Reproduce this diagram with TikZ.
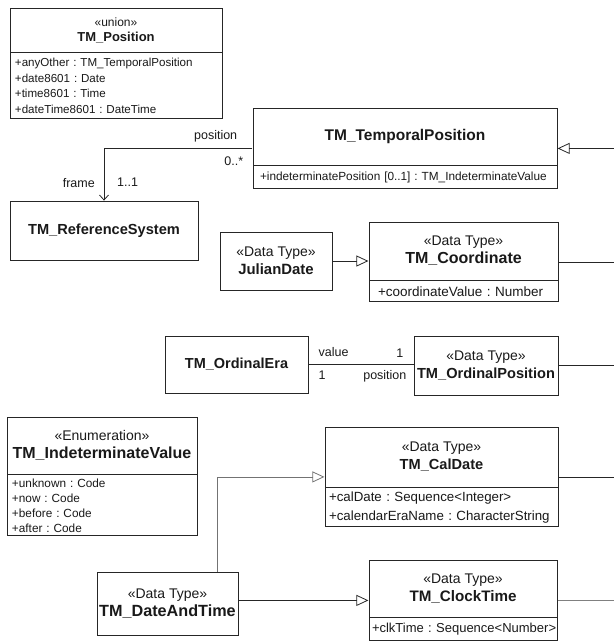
\documentclass[tikz,border=0pt]{standalone}
\usepackage{fontspec}
\setmainfont{Liberation Sans}
\usetikzlibrary{positioning,fit,arrows.meta}
\frenchspacing
\newcommand{\umlname}[2][15]{{\fontsize{#1}{18}\selectfont\bfseries #2}}

\begin{document}
\begin{tikzpicture}[x=1pt,y=-1pt,
    box/.style={draw=black!85,line width=0.8pt,inner sep=0pt,align=center,text=black!90},
    head/.style={box,font=\fontsize{14}{18}\selectfont},
    attr/.style={box,align=left,inner xsep=5pt,text width=#1,font=\fontsize{11.8}{15}\selectfont},
    whole/.style={inner sep=0pt},
    link/.style={draw=black!85,line width=0.8pt},
    gen/.style={link,-{Triangle[open,length=12pt,width=11pt]}},
    role/.style={font=\fontsize{12.5}{14}\selectfont,inner sep=0pt,text=black!90}]
  \useasboundingbox (0,0) rectangle (614,641);
  \coordinate (edge) at (614,0);

  % classes
  \node[head,minimum width=212,minimum height=44,font=\fontsize{12}{15}\selectfont] (pos) at (116,30)
    {«union»\\\umlname[13]{TM\_Position}};
  \node[attr=202pt,minimum height=66,below=0pt of pos,font=\fontsize{11.6}{15.7}\selectfont] (posa)
    {+anyOther : TM\_TemporalPosition\\+date8601 : Date\\+time8601 : Time\\+dateTime8601 : DateTime};

  \node[head,minimum width=304,minimum height=57] (tp) at (405,136.5) {\umlname[15.5]{TM\_TemporalPosition}};
  \node[attr=290pt,inner xsep=7pt,minimum height=23,below=0pt of tp] (tpa)
    {+indeterminatePosition [0..1] : TM\_IndeterminateValue};
  \node[whole,fit=(tp)(tpa)] (TP) {};

  \node[head,minimum width=188,minimum height=59] (rs) at (104,230.5) {\umlname[14.6]{TM\_ReferenceSystem}};

  \node[head,minimum width=112,minimum height=58] (jd) at (276,261) {«Data Type»\\\umlname[14.9]{JulianDate}};
  \node[head,minimum width=189,minimum height=58] (co) at (463.5,251) {«Data Type»\\\umlname[16]{TM\_Coordinate}};
  \node[attr=171pt,inner xsep=9pt,minimum height=21,below=0pt of co,font=\fontsize{13.5}{16}\selectfont] (coa)
    {+coordinateValue : Number};
  \node[whole,fit=(co)(coa)] (CO) {};

  \node[head,minimum width=143,minimum height=57] (oe) at (236.5,364.5) {\umlname[14.5]{TM\_OrdinalEra}};
  \node[head,minimum width=144,minimum height=59] (op) at (486,365.5) {«Data Type»\\\umlname[14.6]{TM\_OrdinalPosition}};

  \node[head,minimum width=190,minimum height=57] (iv) at (102,445.5) {«Enumeration»\\\umlname[16]{TM\_IndeterminateValue}};
  \node[attr=180pt,minimum height=61,below=0pt of iv] (iva)
    {+unknown : Code\\+now : Code\\+before : Code\\+after : Code};

  \node[head,minimum width=233,minimum height=60] (cd) at (441.5,457) {«Data Type»\\\umlname[14.6]{TM\_CalDate}};
  \node[attr=225pt,inner xsep=4pt,minimum height=39,below=0pt of cd,font=\fontsize{13.3}{19}\selectfont] (cda)
    {+calDate : Sequence<Integer>\\+calendarEraName : CharacterString};
  \node[whole,fit=(cd)(cda)] (CD) {};

  \node[head,minimum width=141,minimum height=63] (dt) at (167.5,603.5) {«Data Type»\\\umlname[16.2]{TM\_DateAndTime}};
  \node[head,minimum width=188,minimum height=57] (ct) at (463,588.5) {«Data Type»\\\umlname[15.2]{TM\_ClockTime}};
  \node[attr=182pt,inner xsep=3pt,minimum height=23,below=0pt of ct,font=\fontsize{13}{16}\selectfont] (cta)
    {\mbox{+clkTime : Sequence<Number>}};
  \node[whole,fit=(ct)(cta)] (CT) {};

  % generalizations and links
  \draw[gen] (TP.east -| edge) -- (TP.east);
  \foreach \cls in {CO,op,CD} \draw[link] (\cls.east) -- (\cls.east -| edge);
  \draw[link,draw=black!50] (CT.east) -- (CT.east -| edge);
  \draw[gen] (jd.east) -- (jd.east -| CO.west);
  \draw[gen,draw=black!55] ([xshift=49.5pt]dt.north) |- (CD.west);
  \draw[gen] (dt.east |- CT.west) -- (CT.west);

  % association position/frame
  \draw[link,-{Straight Barb[length=5pt,width=9pt]}] (TP.west) -| (rs.north);
  \node[role,anchor=south east] (r1) at ([xshift=-15pt,yshift=6pt]TP.west) {position};
  \node[role,anchor=north east] (r2) at ([xshift=-9pt,yshift=-8pt]TP.west) {0..*};
  \node[role,anchor=east] (r3) at ([xshift=-9pt,yshift=18pt]rs.north) {frame};
  \node[role,anchor=west] (r4) at ([xshift=13pt,yshift=18pt]rs.north) {1..1};

  % association value/position
  \draw[link] (oe.east) -- (oe.east -| op.west);
  \node[role,anchor=west] (r5) at ([xshift=10pt,yshift=12pt]oe.east) {value};
  \node[role,anchor=east] (r6) at ([xshift=-10pt,yshift=12pt]op.west) {1};
  \node[role,anchor=west] (r7) at ([xshift=10pt,yshift=-11pt]oe.east) {1};
  \node[role,anchor=east] (r8) at ([xshift=-7pt,yshift=-11pt]op.west) {position};
\end{tikzpicture}
\end{document}
